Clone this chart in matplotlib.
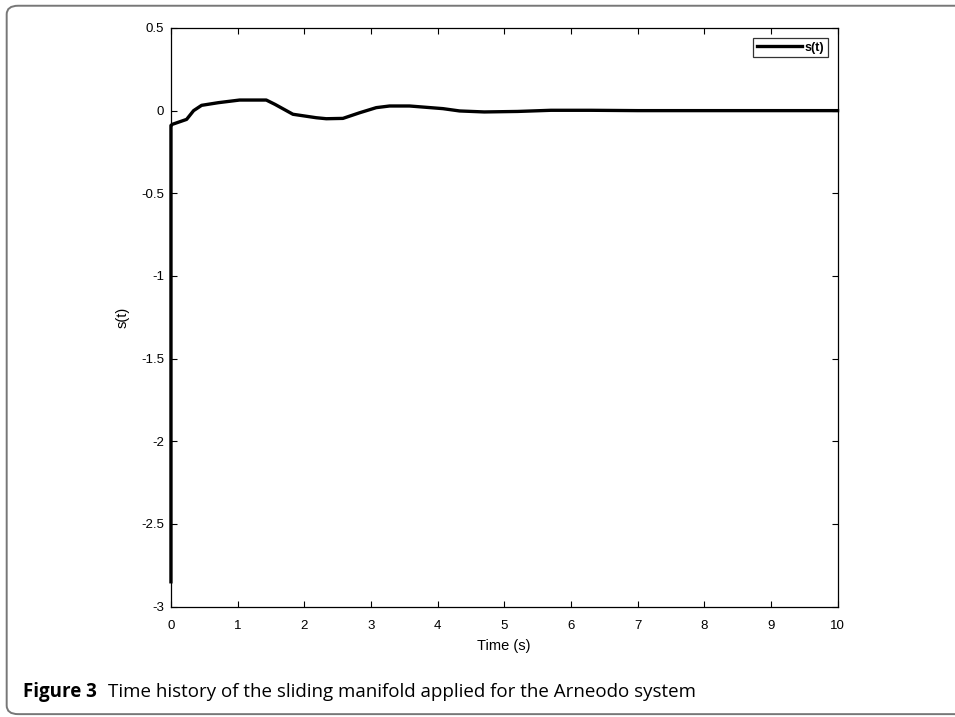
import matplotlib
matplotlib.use("Agg")
import matplotlib.pyplot as plt
from matplotlib.patches import FancyBboxPatch

t = [0.0, 0.0, 0.02, 0.235, 0.34, 0.46, 0.71, 1.03, 1.43, 1.56, 1.83, 2.18, 2.33, 2.58, 2.83,
     3.08, 3.28, 3.58, 4.08, 4.33, 4.7, 5.2, 5.7, 6.3, 7.0, 8.0, 9.0, 10.0]
s = [-2.85, -0.09, -0.083, -0.053, 0.0, 0.032, 0.048, 0.064, 0.064, 0.038, -0.022, -0.043,
     -0.049, -0.047, -0.013, 0.018, 0.028, 0.028, 0.012, -0.002, -0.008, -0.005, 0.002,
     0.002, 0.0, 0.0, 0.0, 0.0]
xticks = list(range(0, 11))
yticks = [-3, -2.5, -2, -1.5, -1, -0.5, 0, 0.5]
ytick_labels = ["-3", "-2.5", "-2", "-1.5", "-1", "-0.5", "0", "0.5"]

plt.rcParams['font.family'] = ['Liberation Sans', 'DejaVu Sans']
fig = plt.figure(figsize=(9.55, 7.17), dpi=100)
ax = fig.add_axes([0.179, 0.154, 0.698, 0.807])
ax.plot(t, s, color='black', linewidth=2.4, label='s(t)', clip_on=False, zorder=3)
ax.set_xlim(0, 10)
ax.set_ylim(-3, 0.5)
ax.set_xticks(xticks)
ax.set_xticklabels([str(v) for v in xticks])
ax.set_yticks(yticks)
ax.set_yticklabels(ytick_labels)
ax.tick_params(direction='in', length=4, labelsize=9.5, top=True, right=True, width=0.8)
ax.tick_params(axis='x', pad=10)
ax.tick_params(axis='y', pad=5)
for sp in ax.spines.values():
    sp.set_linewidth(0.9)
ax.set_xlabel('Time (s)', fontsize=10.5, labelpad=5)
ax.set_ylabel('s(t)', fontsize=10.5, labelpad=8)
leg = ax.legend(loc='upper right', fontsize=9, frameon=True, fancybox=False,
                edgecolor='black', handlelength=3.6, borderpad=0.3, handletextpad=0.2,
                borderaxespad=0.8)
leg.get_frame().set_linewidth(0.9)
for txt in leg.get_texts():
    txt.set_fontweight('bold')

fig.text(0.024, 0.035, 'Figure 3', fontsize=13.5, fontweight='bold', va='center',
         family=['Open Sans', 'DejaVu Sans'])
fig.text(0.113, 0.035, 'Time history of the sliding manifold applied for the Arneodo system',
         fontsize=13.5, va='center', family=['Open Sans', 'DejaVu Sans'])

border = FancyBboxPatch((0.007, 0.004), 1.2, 0.988, boxstyle='round,pad=0,rounding_size=0.012',
                        transform=fig.transFigure, fill=False, edgecolor='#777777', linewidth=1.4)
fig.patches.append(border)

fig.savefig('out.png', dpi=100)
